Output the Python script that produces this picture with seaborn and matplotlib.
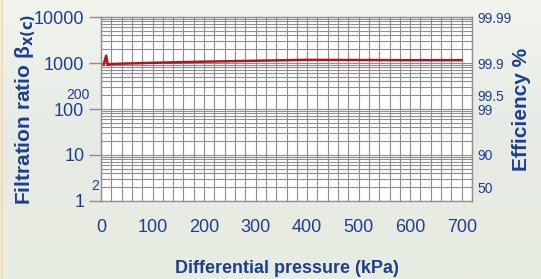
import numpy as np
import pandas as pd
import matplotlib
matplotlib.use("Agg")
import matplotlib.pyplot as plt
import matplotlib.ticker as mticker
import seaborn as sns

# values
pressure = [5, 10, 13, 20, 50, 100, 200, 300, 400, 500, 600, 700]
beta = [920, 1450, 910, 950, 975, 1010, 1070, 1120, 1170, 1160, 1150, 1150]

left_ticks = [1, 10, 100, 1000, 10000]
right_ticks = [2, 10, 100, 200, 1000, 10000]
right_labels = ["50", "90", "99", "99.5", "99.9", "99.99"]

navy = "#1e3f8e"
grid_c = "#8e8e8e"

df = pd.DataFrame({"pressure": pressure, "beta": beta})

sns.set_style("white")
plt.rcParams["font.family"] = ["Liberation Sans", "DejaVu Sans"]

fig = plt.figure(figsize=(5.41, 2.79), dpi=100, facecolor="#e9ede6")
# soft vertical gradient behind everything
bg = fig.add_axes([0, 0, 1, 1], zorder=-10)
grad = np.linspace(0, 1, 100).reshape(-1, 1)
bg.imshow(grad, aspect="auto", cmap=matplotlib.colors.LinearSegmentedColormap.from_list(
    "bg", ["#f1f5ee", "#e6eae4", "#e8ede2"]), extent=[0, 1, 0, 1])
bg.axis("off")

ax = fig.add_axes([0.1867, 0.2796, 0.6858, 0.6594])
ax.set_facecolor("white")

sns.lineplot(data=df, x="pressure", y="beta", ax=ax, color="#b3131d", lw=1.8, zorder=5)

ax.set_yscale("log")
ax.set_ylim(1, 10000)
ax.set_xlim(0, 720)

ax.xaxis.set_major_locator(mticker.FixedLocator(range(0, 701, 100)))
ax.xaxis.set_minor_locator(mticker.MultipleLocator(20))
ax.yaxis.set_major_locator(mticker.FixedLocator(left_ticks))
ax.yaxis.set_major_formatter(mticker.FixedFormatter([str(t) for t in left_ticks]))
ax.yaxis.set_minor_locator(mticker.LogLocator(base=10, subs=np.arange(2, 10)))
ax.yaxis.set_minor_formatter(mticker.NullFormatter())

ax.grid(True, which="both", color=grid_c, lw=0.8)
for s in ax.spines.values():
    s.set_color(grid_c)
    s.set_linewidth(1.0)

ax.tick_params(axis="both", which="major", length=9, width=1, color=grid_c,
               labelcolor=navy, labelsize=13, pad=3)
ax.tick_params(axis="both", which="minor", length=0)
ax.tick_params(axis="x", pad=4)

# small extra labels on left
ax.text(-0.032, 200, "200", transform=ax.get_yaxis_transform(), ha="right", va="center",
        color=navy, fontsize=10)
ax.text(-0.006, 2.1, "2", transform=ax.get_yaxis_transform(), ha="right", va="center",
        color=navy, fontsize=10)

ax2 = ax.twinx()
ax2.set_yscale("log")
ax2.set_ylim(1, 10000)
ax2.yaxis.set_major_locator(mticker.FixedLocator(right_ticks))
ax2.yaxis.set_major_formatter(mticker.FixedFormatter(right_labels))
ax2.yaxis.set_minor_locator(mticker.NullLocator())
ax2.tick_params(axis="y", length=0, labelcolor=navy, labelsize=10, pad=4)
for s in ax2.spines.values():
    s.set_visible(False)

ax.set_xlabel("Differential pressure (kPa)", color=navy, fontsize=13,
              fontweight="bold", labelpad=17)
ax.set_ylabel(r"Filtration ratio β$_{\mathbf{x(c)}}$", color=navy, fontsize=15,
              fontweight="bold", labelpad=-3)
ax2.set_ylabel("Efficiency %", color=navy, fontsize=15, fontweight="bold", labelpad=0)

fig.add_artist(plt.Line2D([0.004, 0.004], [0, 1], color="#f8d9a8", lw=1.2))

fig.savefig("out.png", dpi=100, facecolor=fig.get_facecolor())
